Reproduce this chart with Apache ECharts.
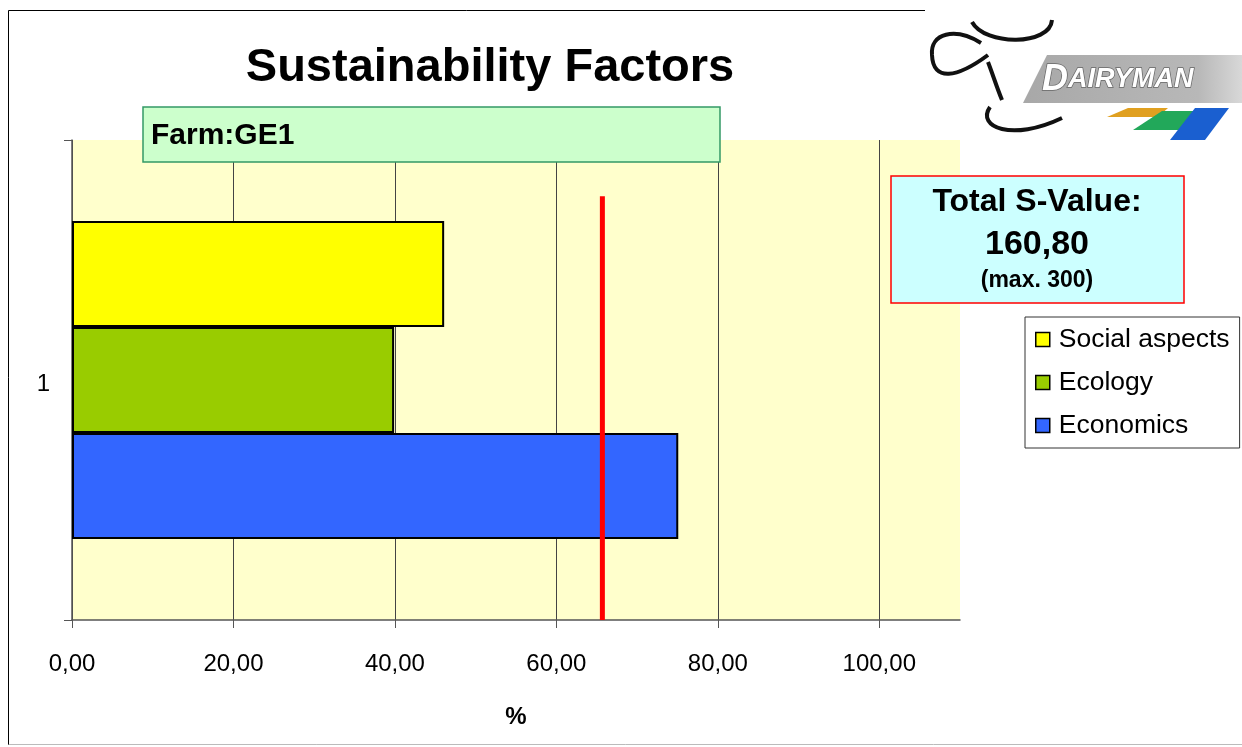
<!DOCTYPE html>
<html>
<head>
<meta charset="utf-8">
<script src="https://cdn.jsdelivr.net/npm/echarts@6/dist/echarts.min.js"></script>
<style>html,body{margin:0;padding:0;background:#fff;}#c{width:1242px;height:747px;}</style>
</head>
<body>
<div id="c"></div>
<script>
var categories = ['1'];
var seriesNames = ['Social aspects', 'Ecology', 'Economics'];
var socialValues = [46.1];
var ecologyValues = [39.9];
var economicsValues = [75.1];
var referenceValue = 65.7;
var xTicks = [0, 20, 40, 60, 80, 100];
var farmLabel = 'Farm:GE1';
var totalLabel = 'Total S-Value:';
var totalValue = '160,80';
var totalMax = '(max. 300)';

var FONT = '"Liberation Sans", Arial, sans-serif';
function fmt(v){ return v.toFixed(2).replace('.', ','); }

var chart = echarts.init(document.getElementById('c'));
var barStyle = function(c){ return {color: c, borderColor: '#000', borderWidth: 2}; };
var option = {
  animation: false,
  backgroundColor: '#fff',
  textStyle: {fontFamily: FONT},
  title: {
    text: 'Sustainability Factors',
    left: 485, top: 40, textAlign: 'center',
    textStyle: {fontFamily: FONT, fontSize: 47, fontWeight: 'bold', color: '#000'}
  },
  legend: {
    data: seriesNames,
    orient: 'vertical',
    left: 1025, top: 317,
    padding: [9, 10, 9, 10],
    itemGap: 16,
    itemWidth: 14, itemHeight: 14,
    icon: 'rect',
    borderColor: '#333', borderWidth: 1,
    backgroundColor: '#fff',
    itemStyle: {borderColor: '#000', borderWidth: 1.5},
    textStyle: {fontFamily: FONT, fontSize: 26.5, color: '#000', padding: [0, 0, 0, 4]}
  },
  grid: {left: 72, top: 140, right: 282, bottom: 127, show: true, backgroundColor: '#ffffcc', borderWidth: 0},
  xAxis: {
    type: 'value', min: 0, max: 110, interval: 20,
    name: '%', nameLocation: 'middle', nameGap: 85,
    nameTextStyle: {fontFamily: FONT, fontSize: 24, fontWeight: 'bold', color: '#000'},
    axisLine: {show: true, lineStyle: {color: '#555', width: 1.5}},
    axisTick: {show: true, length: 8, lineStyle: {color: '#555'}, customValues: xTicks},
    axisLabel: {customValues: xTicks, formatter: function(v){ return fmt(v); }, fontFamily: FONT, fontSize: 24, color: '#000', margin: 32},
    splitLine: {show: true, lineStyle: {color: '#444', width: 1}}
  },
  yAxis: [{
    type: 'category', data: categories,
    axisLine: {show: true, lineStyle: {color: '#555', width: 1.5}},
    axisTick: {show: true, length: 8, inside: false, lineStyle: {color: '#555'}},
    axisLabel: {fontFamily: FONT, fontSize: 24, color: '#000', margin: 22, lineHeight: 32, verticalAlign: 'top', padding: [-12, 0, 0, 0]}
  }, {
    type: 'value', min: 0, max: 1, show: false
  }],
  series: [
    {name: 'Social aspects', type: 'bar', data: socialValues, barGap: '0%', barCategoryGap: '33.75%', itemStyle: barStyle('#ffff00')},
    {name: 'Ecology', type: 'bar', data: ecologyValues, barGap: '0%', barCategoryGap: '33.75%', itemStyle: barStyle('#99cc00')},
    {name: 'Economics', type: 'bar', data: economicsValues, barGap: '0%', barCategoryGap: '33.75%', itemStyle: barStyle('#3366ff')},
    {name: 'ref', type: 'line', yAxisIndex: 1, data: [[referenceValue, 0], [referenceValue, 0.883]],
     symbol: 'none', lineStyle: {color: '#ff0000', width: 5}, z: 5}
  ],
  graphic: [
    // page frame
    {type: 'line', shape: {x1: 8.5, y1: 10.5, x2: 925, y2: 10.5}, style: {stroke: '#000', lineWidth: 1}, z: 0},
    {type: 'line', shape: {x1: 8.5, y1: 10.5, x2: 8.5, y2: 745}, style: {stroke: '#000', lineWidth: 1}, z: 0},
    {type: 'line', shape: {x1: 8.5, y1: 744.5, x2: 1242, y2: 744.5}, style: {stroke: '#bbb', lineWidth: 1}, z: 0},
    // farm box
    {type: 'rect', shape: {x: 143, y: 107, width: 577, height: 55}, style: {fill: '#ccffcc', stroke: '#339966', lineWidth: 1.5}, z: 10},
    {type: 'text', x: 151, y: 136, style: {text: farmLabel, font: 'bold 30px ' + FONT, fill: '#000', textVerticalAlign: 'middle'}, z: 11},
    // total box
    {type: 'rect', shape: {x: 891, y: 176, width: 293, height: 127}, style: {fill: '#ccffff', stroke: '#ff0000', lineWidth: 1.5}, z: 10},
    {type: 'text', x: 1037, y: 202, style: {text: totalLabel, font: 'bold 32px ' + FONT, fill: '#000', textAlign: 'center', textVerticalAlign: 'middle'}, z: 11},
    {type: 'text', x: 1037, y: 245, style: {text: totalValue, font: 'bold 34px ' + FONT, fill: '#000', textAlign: 'center', textVerticalAlign: 'middle'}, z: 11},
    {type: 'text', x: 1037, y: 281, style: {text: totalMax, font: 'bold 23px ' + FONT, fill: '#000', textAlign: 'center', textVerticalAlign: 'middle'}, z: 11},
    // logo
    {type: 'bezierCurve', shape: {x1: 972, y1: 22, cpx1: 985, cpy1: 46, cpx2: 1050, cpy2: 46, x2: 1052, y2: 20}, style: {stroke: '#111', lineWidth: 4, fill: null}, z: 10},
    {type: 'bezierCurve', shape: {x1: 981, y1: 43, cpx1: 955, cpy1: 27, cpx2: 930, cpy2: 33, x2: 932, y2: 55}, style: {stroke: '#111', lineWidth: 4, fill: null}, z: 10},
    {type: 'bezierCurve', shape: {x1: 932, y1: 55, cpx1: 933, cpy1: 82, cpx2: 957, cpy2: 78, x2: 988, y2: 55}, style: {stroke: '#111', lineWidth: 4, fill: null}, z: 10},
    {type: 'bezierCurve', shape: {x1: 988, y1: 62, cpx1: 993, cpy1: 75, cpx2: 997, cpy2: 88, x2: 1002, y2: 100}, style: {stroke: '#111', lineWidth: 4, fill: null}, z: 10},
    {type: 'bezierCurve', shape: {x1: 990, y1: 107, cpx1: 976, cpy1: 127, cpx2: 1012, cpy2: 142, x2: 1062, y2: 118}, style: {stroke: '#111', lineWidth: 4, fill: null}, z: 10},
    {type: 'polygon', shape: {points: [[1047, 55], [1242, 55], [1242, 103], [1023, 103]]},
     style: {fill: new echarts.graphic.LinearGradient(0, 0, 1, 0, [{offset: 0, color: '#a8a8a8'}, {offset: 0.8, color: '#b8b8b8'}, {offset: 1, color: '#d8d8d8'}])}, z: 10},
    {type: 'text', x: 1042, y: 80, style: {text: '{a|D}{b|AIRYMAN}', textVerticalAlign: 'middle',
      rich: {a: {font: 'italic bold 36px ' + FONT, fill: '#fff', stroke: '#666', lineWidth: 1.5},
             b: {font: 'italic bold 27px ' + FONT, fill: '#fff', stroke: '#666', lineWidth: 1.5}}}, z: 11},
    {type: 'polygon', shape: {points: [[1128, 108], [1168, 108], [1158, 117], [1107, 117]]}, style: {fill: '#e0a020'}, z: 10},
    {type: 'polygon', shape: {points: [[1162, 111], [1197, 111], [1180, 130], [1133, 130]]}, style: {fill: '#22a85a'}, z: 11},
    {type: 'polygon', shape: {points: [[1195, 108], [1229, 108], [1205, 140], [1170, 140]]}, style: {fill: '#1a5fd0'}, z: 12}
  ]
};
chart.setOption(option);
</script>
</body>
</html>
